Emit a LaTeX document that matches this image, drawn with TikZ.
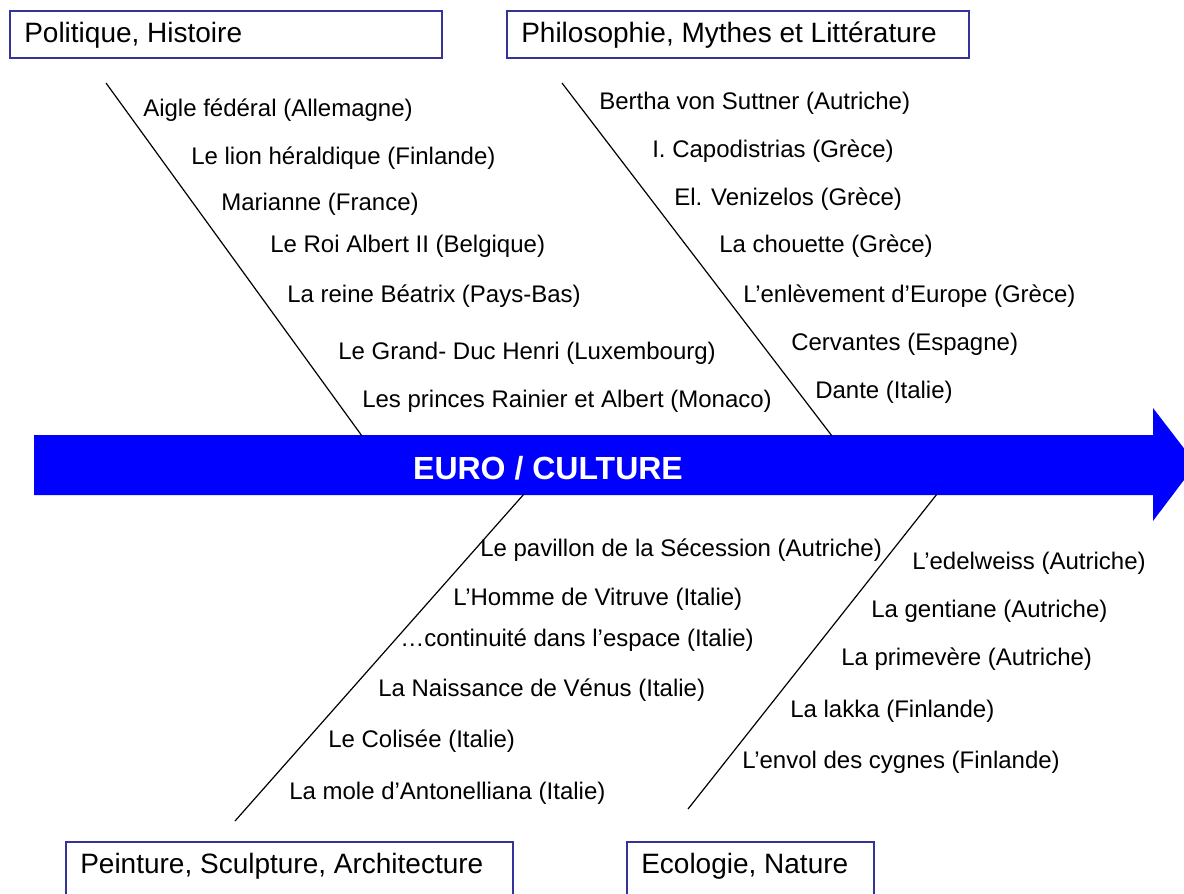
\documentclass[tikz,border=0pt]{standalone}
\usepackage{fontspec}
\setmainfont{Liberation Sans}
\definecolor{boxblue}{RGB}{51,51,153}
\definecolor{arrowblue}{RGB}{0,0,255}
\tikzset{
  catbox/.style={draw=boxblue, line width=1.5pt},
  cattext/.style={anchor=west, inner sep=0pt, font=\fontsize{21}{25}\selectfont},
  item/.style={anchor=west, inner sep=0pt, font=\fontsize{18}{22}\selectfont},
  bone/.style={draw=black, line width=0.9pt},
}
\begin{document}
\begin{tikzpicture}[x=0.75pt,y=-0.75pt]
\useasboundingbox (0,0) rectangle (1184,893);
\clip (0,0) rectangle (1184,893);
\fill[white] (0,0) rectangle (1184,893);

% main arrow
\fill[arrowblue] (34,435) -- (1153,435) -- (1153,408) -- (1196,464) -- (1153,521) -- (1153,495) -- (34,495) -- cycle;
\node[inner sep=0pt, text=white, font=\fontsize{24}{28}\selectfont\bfseries] (main) at (548,468) {EURO / CULTURE};

% category boxes
\draw[catbox] (10,11) rectangle (442,58);
\node[cattext] (cat1) at (24,35) {Politique, Histoire};
\draw[catbox] (507,11) rectangle (969,58);
\node[cattext] (cat2) at (521,35) {Philosophie, Mythes et Littérature};
\draw[catbox] (66,842) rectangle (513,910);
\node[cattext] (cat3) at (80,866) {Peinture, Sculpture, Architecture};
\draw[catbox] (627,842) rectangle (874,910);
\node[cattext] (cat4) at (641,866) {Ecologie, Nature};

% bones
\coordinate (b1a) at (106,83);  \coordinate (b1b) at (362,436);
\coordinate (b2a) at (562,83);  \coordinate (b2b) at (832,436);
\coordinate (b3a) at (524,494); \coordinate (b3b) at (235,821);
\coordinate (b4a) at (937,494); \coordinate (b4b) at (688,809);
\draw[bone] (b1a) -- (b1b);
\draw[bone] (b2a) -- (b2b);
\draw[bone] (b3a) -- (b3b);
\draw[bone] (b4a) -- (b4b);

% Politique, Histoire
\node[item] (p1) at (143,110) {Aigle fédéral (Allemagne)};
\node[item] (p2) at (191,158) {Le lion héraldique (Finlande)};
\node[item] (p3) at (221,204) {Marianne (France)};
\node[item] (p4) at (270,246) {Le Roi Albert II (Belgique)};
\node[item] (p5) at (287,296) {La reine Béatrix (Pays-Bas)};
\node[item] (p6) at (338,353) {Le Grand- Duc Henri (Luxembourg)};
\node[item] (p7) at (362,401) {Les princes Rainier et Albert (Monaco)};

% Philosophie
\node[item] (h1) at (599,103) {Bertha von Suttner (Autriche)};
\node[item] (h2) at (652,151) {I. Capodistrias (Grèce)};
\node[item] (h3) at (674,199) {El. Venizelos (Grèce)};
\node[item] (h4) at (719,246) {La chouette (Grèce)};
\node[item] (h5) at (743,296) {L’enlèvement d’Europe (Grèce)};
\node[item] (h6) at (791,344) {Cervantes (Espagne)};
\node[item] (h7) at (815,392) {Dante (Italie)};

% Peinture
\node[item] (s1) at (480,550) {Le pavillon de la Sécession (Autriche)};
\node[item] (s2) at (453,599) {L’Homme de Vitruve (Italie)};
\node[item] (s3) at (400,640) {…continuité dans l’espace (Italie)};
\node[item] (s4) at (378,690) {La Naissance de Vénus (Italie)};
\node[item] (s5) at (328,741) {Le Colisée (Italie)};
\node[item] (s6) at (289,793) {La mole d’Antonelliana (Italie)};

% Ecologie
\node[item] (e1) at (912,563) {L’edelweiss (Autriche)};
\node[item] (e2) at (871,611) {La gentiane (Autriche)};
\node[item] (e3) at (841,659) {La primevère (Autriche)};
\node[item] (e4) at (790,711) {La lakka (Finlande)};
\node[item] (e5) at (742,762) {L’envol des cygnes (Finlande)};
\end{tikzpicture}
\end{document}
